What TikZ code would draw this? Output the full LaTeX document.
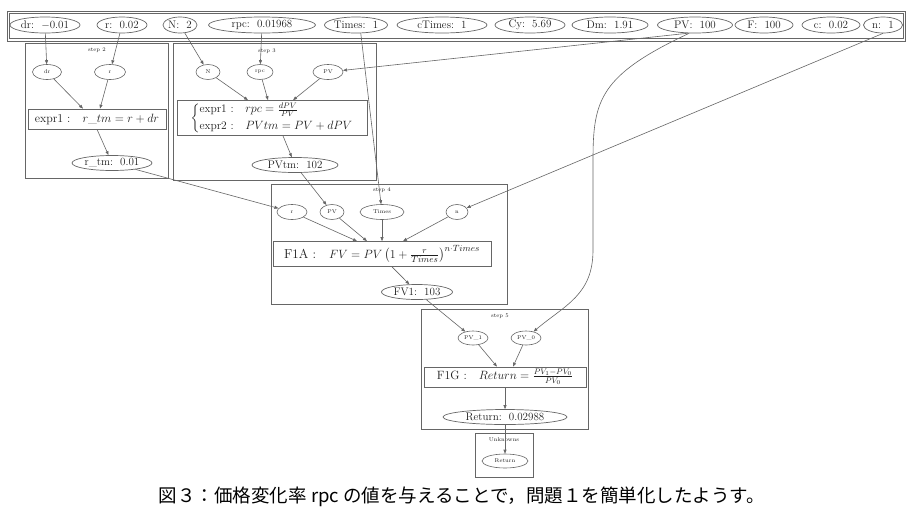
\documentclass[tikz,border=0pt]{standalone}
\usepackage{amsmath}
\usepackage{fontspec}
\newfontfamily\cjk{Noto Sans CJK JP}
\usetikzlibrary{shapes.geometric,arrows.meta,calc}
\definecolor{lc}{gray}{0.4}
\definecolor{tc}{gray}{0.12}
\begin{document}
\begin{tikzpicture}[x=1pt,y=-1pt,
  topvar/.style={ellipse,draw=lc,line width=0.7pt,inner sep=0pt,minimum height=16,text=tc,font=\fontsize{11}{11}\selectfont},
  subvar/.style={ellipse,draw=lc,line width=0.6pt,inner sep=0pt,minimum height=15,text=tc,font=\fontsize{5.5}{5.5}\selectfont},
  valvar/.style={ellipse,draw=lc,line width=0.7pt,inner sep=0pt,minimum height=15,text=tc,font=\fontsize{11}{11}\selectfont},
  eqbox/.style={rectangle,draw=lc,line width=0.7pt,inner sep=1pt,text=tc,font=\fontsize{12}{13}\selectfont},
  grpbox/.style={draw=lc,line width=0.8pt},
  grplabel/.style={text=tc,font=\fontsize{5.5}{5.5}\selectfont,inner sep=0pt},
  conn/.style={draw=lc,line width=0.6pt,-{Triangle[length=4pt,width=3pt]}}]
\useasboundingbox (0,0) rectangle (920,520);
\fill[white] (0,0) rectangle (920,520);

% top bar
\draw[grpbox] (7,11) rectangle (905,41);
\draw[draw=lc,line width=0.6pt] (9,13) rectangle (903,38);
\node[topvar,minimum width=70] (drT) at (45,25) {dr:\ \ $-$0.01};
\node[topvar,minimum width=50] (rT) at (122,25) {r:\ \ 0.02};
\node[topvar,minimum width=34] (NT) at (180,25) {N:\ \ 2};
\node[topvar,minimum width=107] (rpcT) at (262,25) {rpc:\ \ 0.01968};
\node[topvar,minimum width=63] (TimesT) at (356,25) {Times:\ \ 1};
\node[topvar,minimum width=90] (cTimesT) at (442,25) {cTimes:\ \ 1};
\node[topvar,minimum width=70] (CyT) at (530,25) {Cy:\ \ 5.69};
\node[topvar,minimum width=76] (DmT) at (610,25) {Dm:\ \ 1.91};
\node[topvar,minimum width=75] (PVT) at (695,25) {PV:\ \ 100};
\node[topvar,minimum width=58] (FT) at (764,25) {F:\ \ 100};
\node[topvar,minimum width=58] (cT) at (831,25) {c:\ \ 0.02};
\node[topvar,minimum width=39] (nT) at (883,25) {n:\ \ 1};

% step 2
\draw[grpbox] (25,43) rectangle (168,178);
\node[grplabel] (s2) at (97,50) {step 2};
\node[subvar,minimum width=29] (dr2) at (47,72) {dr};
\node[subvar,minimum width=31] (r2) at (110,72) {r};
\node[eqbox,minimum width=138,minimum height=20] (expr1) at (97,119) {expr1 :\quad $r\_tm = r + dr$};
\node[valvar,minimum width=80] (rtm) at (112,163) {r\_tm:\ \ 0.01};

% step 3
\draw[grpbox] (173,43) rectangle (376,180);
\node[grplabel] (s3) at (267,51) {step 3};
\node[subvar,minimum width=24] (N3) at (208,72) {N};
\node[subvar,minimum width=26] (rpc3) at (260,72) {rpc};
\node[subvar,minimum width=30] (PV3) at (328,72) {PV};
\node[eqbox,minimum width=190,minimum height=35,inner sep=0pt,font=\fontsize{11.5}{12}\selectfont] (expr3) at (272,118)
  {$\left\{\begin{array}{@{}l@{\quad}l@{}}\text{expr1 :} & rpc = \frac{dPV}{PV}\\[5pt] \text{expr2 :} & PVtm = PV + dPV\end{array}\right.$};
\node[valvar,minimum width=86] (PVtm) at (295,165) {PVtm:\ \ 102};

% step 4
\draw[grpbox] (271,184) rectangle (507,304);
\node[grplabel] (s4) at (382,190) {step 4};
\node[subvar,minimum width=30] (r4) at (292,212) {r};
\node[subvar,minimum width=24] (PV4) at (332,212) {PV};
\node[subvar,minimum width=44] (Times4) at (382,212) {Times};
\node[subvar,minimum width=22] (n4) at (457,212) {n};
\node[eqbox,minimum width=218,minimum height=25,font=\fontsize{13}{14}\selectfont] (F1A) at (382,254)
  {F1A :\quad $FV = PV\left(1+\frac{r}{Times}\right)^{n\cdot Times}$};
\node[valvar,minimum width=71] (FV1) at (417,292) {FV1:\ \ 103};

% step 5
\draw[grpbox] (421,309) rectangle (588,429);
\node[grplabel] (s5) at (500,316) {step 5};
\node[subvar,minimum width=30,minimum height=14] (PV1) at (473,338) {PV\_1};
\node[subvar,minimum width=30,minimum height=14] (PV0) at (526,338) {PV\_0};
\node[eqbox,minimum width=162,minimum height=20] (F1G) at (505,377)
  {F1G :\quad $Return = \frac{PV_1 - PV_0}{PV_0}$};
\node[valvar,minimum width=124] (Ret5) at (505,417) {Return:\ \ 0.02988};

% unknowns
\draw[grpbox] (475,433) rectangle (533,477);
\node[grplabel] (su) at (504,440) {Unknowns};
\node[subvar,minimum width=46,minimum height=14] (RetU) at (505,461) {Return};

% connectors from top bar
\draw[conn] (drT) -- (dr2);
\draw[conn] (rT) -- (r2);
\draw[conn] (NT) -- (N3);
\draw[conn] (rpcT) -- (rpc3);
\draw[conn] (TimesT.-60) -- (Times4);
\draw[conn] (PVT.-130) -- (PV3);
\draw[conn] (PVT.-125) .. controls (600,75) and (593,100) .. (593,160) -- (593,250) .. controls (593,295) and (565,305) .. (PV0);
\draw[conn] (nT.south) -- (n4);

% step 2
\draw[conn] (dr2) -- ($(expr1.north)+(-14,0)$);
\draw[conn] (r2) -- ($(expr1.north)+(3,0)$);
\draw[conn] (expr1.south) -- (rtm);
\draw[conn] (rtm) -- (r4);

% step 3
\draw[conn] (N3) -- ($(expr3.north)+(-24,0)$);
\draw[conn] (rpc3) -- ($(expr3.north)+(-4,0)$);
\draw[conn] (PV3) -- ($(expr3.north)+(21,0)$);
\draw[conn] ($(expr3.south)+(11,0)$) -- (PVtm);
\draw[conn] (PVtm) -- (PV4);

% step 4
\draw[conn] (r4) -- ($(F1A.north)+(-25,0)$);
\draw[conn] (PV4) -- ($(F1A.north)+(-15,0)$);
\draw[conn] (Times4) -- (F1A.north);
\draw[conn] (n4) -- ($(F1A.north)+(21,0)$);
\draw[conn] ($(F1A.south)+(10,0)$) -- (FV1);
\draw[conn] (FV1) -- (PV1);

% step 5
\draw[conn] (PV1) -- ($(F1G.north)+(-8,0)$);
\draw[conn] (PV0) -- ($(F1G.north)+(8,0)$);
\draw[conn] (F1G) -- (Ret5);
\draw[conn] (Ret5) -- (RetU);

% caption
\node[text=black,font=\cjk\fontsize{18.5}{20}\selectfont] (cap) at (462,497) {図３：価格変化率 rpc の値を与えることで，問題１を簡単化したようす。};
\end{tikzpicture}
\end{document}
